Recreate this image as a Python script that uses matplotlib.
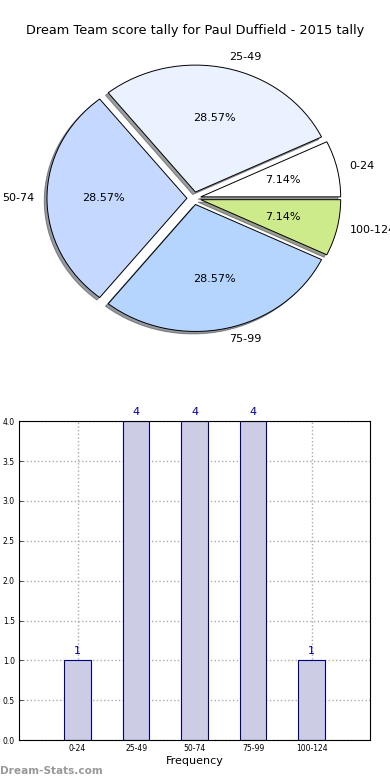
import numpy as np
import matplotlib
matplotlib.use("Agg")
import matplotlib.pyplot as plt

labels = ["0-24", "25-49", "50-74", "75-99", "100-124"]
counts = [1, 4, 4, 4, 1]
pie_colors = ["#FFFFFF", "#EAF1FF", "#C5D8FF", "#B5D5FF", "#CEEB8B"]
yticks = [0.0, 0.5, 1.0, 1.5, 2.0, 2.5, 3.0, 3.5, 4.0]

fig = plt.figure(figsize=(3.9, 7.8), dpi=100)

# pie (old style: not forced circular)
ax1 = fig.add_axes([0.0487, 0.5423, 0.897, 0.407])
ax1.pie(counts, labels=labels, colors=pie_colors, autopct="%.2f%%",
        explode=[0.05] * 5, shadow=dict(ox=-0.014, oy=-0.014, shade=0.75),
        startangle=0, counterclock=True,
        wedgeprops=dict(edgecolor="black", linewidth=0.7),
        textprops=dict(fontsize=8), labeldistance=1.09, pctdistance=0.6)
ax1.set_aspect("auto")
ax1.set_xlim(-1.25, 1.25)
ax1.set_ylim(-1.25, 1.25)
fig.text(0.5, 0.961, "Dream Team score tally for Paul Duffield - 2015 tally",
         ha="center", va="center", fontsize=9.3)

# bars
ax2 = fig.add_axes([0.049, 0.051, 0.900, 0.409])
x = np.arange(len(labels))
bars = ax2.bar(x, counts, width=0.45, color="#CCCCE5", edgecolor="#000080", linewidth=0.8, zorder=2)
for xi, c in zip(x, counts):
    ax2.text(xi, c + 0.05, str(c), ha="center", va="bottom", color="#000099", fontsize=8)
ax2.set_xlim(-1, 5)
ax2.set_ylim(0, 4)
ax2.set_xticks(x)
ax2.set_xticklabels(labels, fontsize=5.5)
ax2.set_yticks(yticks)
ax2.set_yticklabels(["%.1f" % v for v in yticks], fontsize=5.5)
ax2.tick_params(direction="in", length=3, width=0.5, pad=3)
ax2.grid(True, linestyle=":", color="#AAAAAA", linewidth=1.0, zorder=0)
ax2.set_axisbelow(True)
ax2.set_xlabel("Frequency", fontsize=8, labelpad=2)
for s in ax2.spines.values():
    s.set_linewidth(0.8)

fig.text(0.0, 0.011, "Dream-Stats.com", fontsize=7.6, color="#999999", fontweight="bold", ha="left", va="center")

fig.savefig("out.png", dpi=100)
